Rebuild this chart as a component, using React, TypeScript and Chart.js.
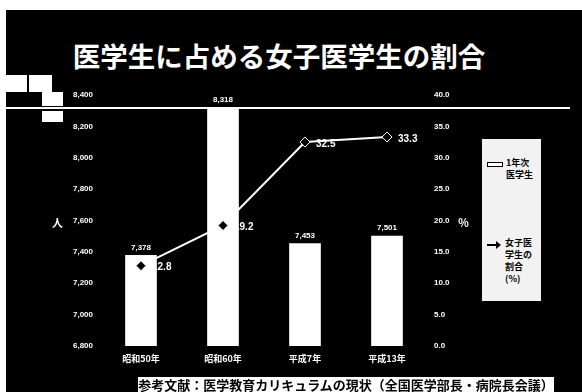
import React, { useEffect, useRef } from "react";
import { Chart, registerables } from "chart.js";

Chart.register(...registerables);

const categories = ["昭和50年", "昭和60年", "平成7年", "平成13年"];
const students = [7378, 8318, 7453, 7501];
const femaleRatio = [12.8, 19.2, 32.5, 33.3];
const leftMin = 6800;
const leftMax = 8400;
const leftStep = 200;
const rightMin = 0;
const rightMax = 40;
const rightStep = 5;

const NUM_FONT = '"Liberation Sans", Arial, sans-serif';
const JP_FONT = '"Noto Sans CJK JP", "Noto Sans", sans-serif';

const labelPlugin = {
  id: "valueLabels",
  afterDatasetsDraw(chart: any) {
    const ctx = chart.ctx;
    ctx.save();
    ctx.fillStyle = "#ffffff";
    const barMeta = chart.getDatasetMeta(0);
    ctx.font = `bold 8px ${NUM_FONT}`;
    ctx.textAlign = "center";
    ctx.textBaseline = "bottom";
    barMeta.data.forEach((el: any, i: number) => {
      ctx.fillText(students[i].toLocaleString("en-US"), el.x, el.y - 4);
    });
    const lineMeta = chart.getDatasetMeta(1);
    ctx.font = `bold 10px ${NUM_FONT}`;
    ctx.textAlign = "left";
    ctx.textBaseline = "middle";
    lineMeta.data.forEach((el: any, i: number) => {
      ctx.fillText(femaleRatio[i].toFixed(1), el.x + 11, el.y + 2);
    });
    ctx.restore();
  },
};

export default function App() {
  const canvasRef = useRef<HTMLCanvasElement | null>(null);

  useEffect(() => {
    if (!canvasRef.current) return;
    const chart = new Chart(canvasRef.current, {
      type: "bar",
      data: {
        labels: categories,
        datasets: [
          {
            type: "bar",
            label: "1年次医学生",
            data: students,
            backgroundColor: "#ffffff",
            borderWidth: 0,
            barThickness: 31,
            yAxisID: "y",
            order: 2,
          },
          {
            type: "line",
            label: "女子医学生の割合(%)",
            data: femaleRatio,
            borderColor: "#ffffff",
            borderWidth: 2,
            pointStyle: "rectRot",
            pointRadius: 5,
            pointBackgroundColor: "#000000",
            pointBorderColor: "#ffffff",
            pointBorderWidth: 1,
            tension: 0,
            yAxisID: "y1",
            order: 1,
          } as any,
        ],
      },
      options: {
        responsive: false,
        animation: false,
        devicePixelRatio: 1,
        layout: { padding: { top: 95, left: 0, right: 0, bottom: 0 } },
        plugins: {
          legend: { display: false },
          tooltip: { enabled: false },
          title: { display: false },
        },
        scales: {
          x: {
            grid: { display: false, drawTicks: false },
            border: { display: false },
            ticks: {
              color: "#ffffff",
              font: { family: JP_FONT, size: 9, weight: "bold" },
              padding: 7,
              maxRotation: 0,
            },
            afterFit(scale: any) {
              scale.height = 46;
            },
          },
          y: {
            position: "left",
            min: leftMin,
            max: leftMax,
            grid: { display: false, drawTicks: false },
            border: { display: false },
            ticks: {
              stepSize: leftStep,
              color: "#ffffff",
              font: { family: NUM_FONT, size: 8, weight: "bold" },
              padding: 7,
              callback: (v: any) => Number(v).toLocaleString("en-US"),
            },
            afterFit(scale: any) {
              scale.width = 100;
            },
          },
          y1: {
            position: "right",
            min: rightMin,
            max: rightMax,
            grid: { display: false, drawTicks: false },
            border: { display: false },
            ticks: {
              stepSize: rightStep,
              color: "#ffffff",
              font: { family: NUM_FONT, size: 8, weight: "bold" },
              padding: 6,
              callback: (v: any) => Number(v).toFixed(1),
            },
            afterFit(scale: any) {
              scale.width = 154;
            },
          },
        },
      },
      plugins: [labelPlugin],
    });
    return () => chart.destroy();
  }, []);

  const abs = (x: number, y: number, w: number, h: number, extra: any = {}) => ({
    position: "absolute" as const,
    left: x,
    top: y,
    width: w,
    height: h,
    ...extra,
  });

  return (
    <div style={{ position: "fixed", left: 0, top: 0, width: 582, height: 392, background: "#ffffff", overflow: "hidden" }}>
      <div style={abs(6, 10, 576, 382, { background: "#000000" })} />
      {/* decoration blocks */}
      <div style={abs(6, 75, 21, 17, { background: "#ffffff" })} />
      <div style={abs(29, 75, 23, 17, { background: "#ffffff" })} />
      <div style={abs(42, 92, 21, 14, { background: "#ffffff" })} />
      <div style={abs(42, 111, 21, 11, { background: "#ffffff" })} />
      {/* title underline */}
      <div style={abs(0, 107, 570, 2, { background: "#ffffff" })} />
      {/* title */}
      <div
        style={abs(-12, 35, 582, 40, {
          color: "#ffffff",
          fontFamily: JP_FONT,
          fontWeight: "bold",
          fontSize: 27.5,
          lineHeight: "40px",
          textAlign: "center",
          whiteSpace: "nowrap",
        })}
      >
        医学生に占める女子医学生の割合
      </div>
      <canvas ref={canvasRef} width={582} height={392} style={abs(0, 0, 582, 392)} />
      {/* axis unit labels */}
      <div style={abs(52, 214, 16, 16, { color: "#fff", fontFamily: JP_FONT, fontWeight: "bold", fontSize: 11, lineHeight: "16px" })}>人</div>
      <div style={abs(458, 214, 16, 16, { color: "#fff", fontFamily: JP_FONT, fontWeight: "bold", fontSize: 11, lineHeight: "16px" })}>％</div>
      {/* legend */}
      <div style={abs(482, 139, 59, 162, { background: "#f2f2f2" })}>
        <div style={abs(5, 23, 16, 5, { border: "1px solid #000", background: "#fff", boxSizing: "border-box" })} />
        <div style={abs(24, 18, 34, 26, { color: "#000", fontFamily: JP_FONT, fontWeight: "bold", fontSize: 9, lineHeight: "12px" })}>
          1年次<br />医学生
        </div>
        <div style={abs(5, 105, 12, 2, { background: "#000" })} />
        <div style={abs(14, 102, 0, 0, { borderLeft: "5px solid #000", borderTop: "4px solid transparent", borderBottom: "4px solid transparent" })} />
        <div style={abs(23, 98, 36, 52, { color: "#000", fontFamily: JP_FONT, fontWeight: "bold", fontSize: 9, lineHeight: "12px" })}>
          女子医<br />学生の<br />割合<br />(%)
        </div>
      </div>
      {/* caption */}
      <div
        style={abs(138, 377, 416, 18, {
          background: "#ffffff",
          color: "#000",
          fontFamily: JP_FONT,
          fontWeight: "bold",
          fontSize: 13,
          lineHeight: "16px",
          textAlign: "center",
          whiteSpace: "nowrap",
        })}
      >
        参考文献：医学教育カリキュラムの現状（全国医学部長・病院長会議）
      </div>
    </div>
  );
}
